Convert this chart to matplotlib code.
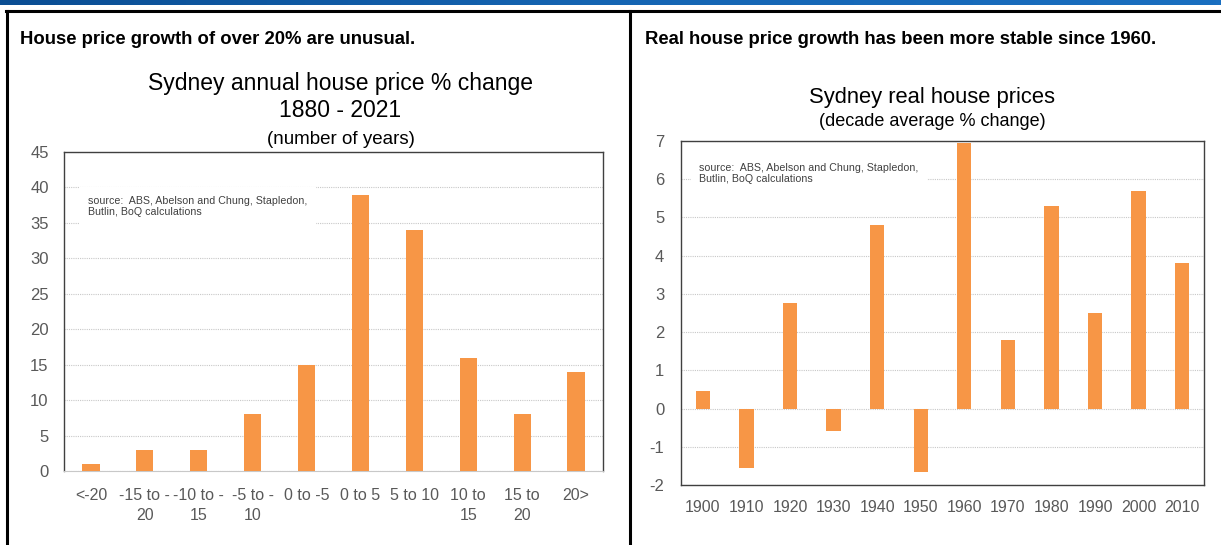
import matplotlib
matplotlib.use("Agg")
import matplotlib.pyplot as plt
import numpy as np
from matplotlib import font_manager
from matplotlib.colors import LinearSegmentedColormap
from matplotlib.lines import Line2D

# ---------------- data ----------------
left_categories = ["<-20", "-15 to -\n20", "-10 to -\n15", "-5 to -\n10", "0 to -5",
                   "0 to 5", "5 to 10", "10 to\n15", "15 to\n20", "20>"]
left_values = [1, 3, 3, 8, 15, 39, 34, 16, 8, 14]
left_yticks = [0, 5, 10, 15, 20, 25, 30, 35, 40, 45]

right_categories = ["1900", "1910", "1920", "1930", "1940", "1950",
                    "1960", "1970", "1980", "1990", "2000", "2010"]
right_values = [0.45, -1.55, 2.75, -0.58, 4.8, -1.65, 6.95, 1.8, 5.3, 2.5, 5.7, 3.8]
right_yticks = [-2, -1, 0, 1, 2, 3, 4, 5, 6, 7]

left_header = "House price growth of over 20% are unusual."
right_header = "Real house price growth has been more stable since 1960."
left_title = "Sydney annual house price % change\n1880 - 2021"
left_subtitle = "(number of years)"
right_title = "Sydney real house prices"
right_subtitle = "(decade average % change)"
source_text = "source:  ABS, Abelson and Chung, Stapledon,\nButlin, BoQ calculations"

# ---------------- fonts ----------------
names = {f.name for f in font_manager.fontManager.ttflist}
narrow = "Liberation Sans Narrow" if "Liberation Sans Narrow" in names else "Liberation Sans"
plt.rcParams["font.family"] = [narrow, "DejaVu Sans"]
plt.rcParams["axes.unicode_minus"] = False

BAR = "#F79646"
TICKC = "#595959"
W, H = 1221, 545
fig = plt.figure(figsize=(W / 100, H / 100), dpi=100)

def fx(px):
    return px / W

def fy(py):
    return 1 - py / H

# top blue band (gradient)
band = fig.add_axes([0, fy(5), 1, 5 / H])
grad = np.linspace(0, 1, 256).reshape(1, -1)
cm = LinearSegmentedColormap.from_list("b", ["#0b4e93", "#1565b3", "#1a6fc0"])
band.imshow(grad, aspect="auto", cmap=cm, extent=[0, 1, 0, 1])
band.axis("off")

# panel borders
fig.add_artist(Line2D([fx(6), 1], [fy(10.5), fy(10.5)], color="black", lw=2.2, transform=fig.transFigure))
fig.add_artist(Line2D([fx(7), fx(7)], [fy(10.5), 0], color="black", lw=2.2, transform=fig.transFigure))
fig.add_artist(Line2D([fx(630), fx(630)], [fy(10.5), 0], color="black", lw=2.2, transform=fig.transFigure))

# headers
fig.text(fx(20), fy(40), left_header, fontsize=13.3, fontweight="bold",
         family="Liberation Sans", va="center", ha="left")
fig.text(fx(645), fy(40), right_header, fontsize=13.3, fontweight="bold",
         family="Liberation Sans", va="center", ha="left")

# ---------------- left chart ----------------
axL = fig.add_axes([fx(64), fy(471), fx(603 - 64), (471 - 152) / H])
xl = np.arange(len(left_categories))
axL.bar(xl, left_values, width=0.32, color=BAR, zorder=3)
axL.set_xlim(-0.5, len(left_categories) - 0.5)
axL.set_ylim(0, 45)
axL.set_yticks(left_yticks)
axL.set_xticks(xl)
axL.set_xticklabels(left_categories, linespacing=1.45)
axL.grid(axis="y", color="#c8c8c8", lw=0.8, ls=(0, (1, 1)), zorder=0)
for s in ["top", "left", "right"]:
    axL.spines[s].set_color("#404040")
    axL.spines[s].set_linewidth(1.0)
axL.spines["bottom"].set_color("#c8c8c8")
axL.spines["bottom"].set_linestyle((0, (1, 1)))
axL.tick_params(axis="both", length=0, labelsize=11.5, colors=TICKC, pad=12)
axL.tick_params(axis="y", labelsize=12, pad=11)
fig.text(fx(340), fy(97), left_title, fontsize=16.5, ha="center", va="center", linespacing=1.2)
fig.text(fx(341), fy(140), left_subtitle, fontsize=13.5, ha="center", va="center")
axL.text(0.045, 0.83, source_text, transform=axL.transAxes, fontsize=7.7, color="#404040",
         family="Liberation Sans", va="center", ha="left", linespacing=1.1,
         bbox=dict(facecolor="white", edgecolor="none", pad=6), zorder=4)

# ---------------- right chart ----------------
axR = fig.add_axes([fx(681), fy(485), fx(1204 - 681), (485 - 141) / H])
xr = np.arange(len(right_categories))
axR.bar(xr, right_values, width=0.33, color=BAR, zorder=3)
axR.set_xlim(-0.5, len(right_categories) - 0.5)
axR.set_ylim(-2, 7)
axR.set_yticks(right_yticks)
axR.set_xticks(xr)
axR.set_xticklabels(right_categories)
axR.grid(axis="y", color="#c8c8c8", lw=0.8, ls=(0, (1, 1)), zorder=0)
for s in axR.spines.values():
    s.set_color("#404040")
    s.set_linewidth(1.0)
axR.tick_params(axis="both", length=0, labelsize=11.5, colors=TICKC, pad=11)
axR.tick_params(axis="y", labelsize=12, pad=12)
fig.text(fx(932), fy(97), right_title, fontsize=15.8, ha="center", va="center")
fig.text(fx(932), fy(122), right_subtitle, fontsize=13, ha="center", va="center")
axR.text(0.035, 0.905, source_text, transform=axR.transAxes, fontsize=7.7, color="#404040",
         family="Liberation Sans", va="center", ha="left", linespacing=1.1,
         bbox=dict(facecolor="white", edgecolor="none", pad=6), zorder=4)

fig.savefig("out.png", dpi=100, facecolor="white")
